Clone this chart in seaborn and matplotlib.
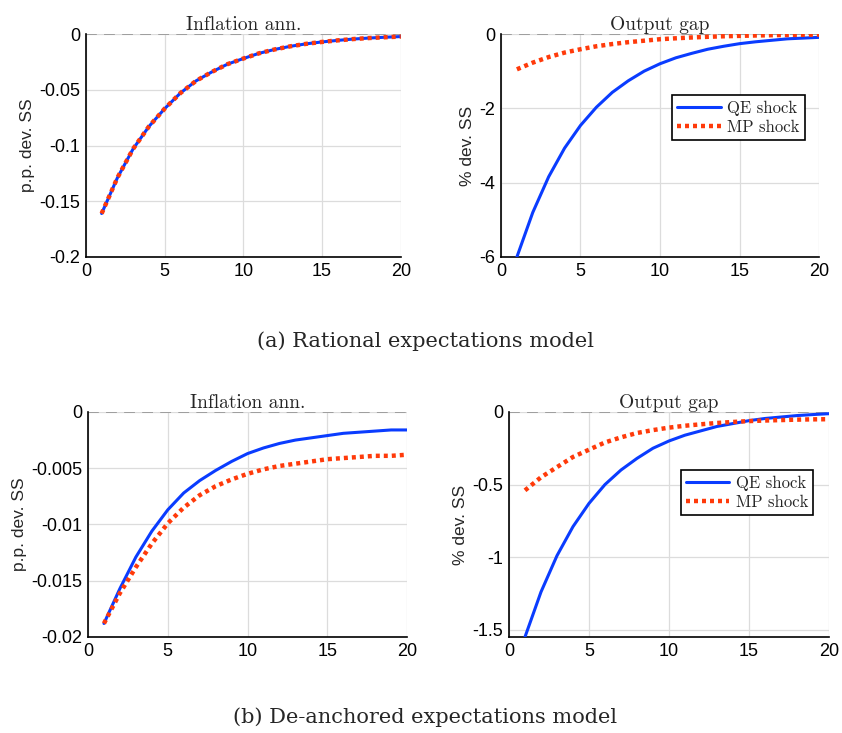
import numpy as np
import pandas as pd
import matplotlib
matplotlib.use("Agg")
import matplotlib.pyplot as plt
import seaborn as sns

# ---- data ----
periods = list(range(1, 21))

# (a) Rational expectations model
re_infl_qe = [-0.161, -0.129, -0.103, -0.083, -0.067, -0.053, -0.042, -0.034, -0.027, -0.022,
              -0.0173, -0.0138, -0.011, -0.0088, -0.0071, -0.0057, -0.0045, -0.0036, -0.0029, -0.0023]
re_infl_mp = [-0.161, -0.129, -0.103, -0.083, -0.067, -0.053, -0.042, -0.034, -0.027, -0.022,
              -0.0173, -0.0138, -0.011, -0.0088, -0.0071, -0.0057, -0.0045, -0.0036, -0.0029, -0.0023]
re_gap_qe = [-6.0, -4.8, -3.84, -3.07, -2.46, -1.97, -1.57, -1.26, -1.0, -0.8,
             -0.64, -0.52, -0.41, -0.33, -0.26, -0.21, -0.17, -0.13, -0.11, -0.09]
re_gap_mp = [-0.95, -0.77, -0.62, -0.50, -0.41, -0.33, -0.27, -0.22, -0.18, -0.14,
             -0.115, -0.093, -0.075, -0.061, -0.05, -0.04, -0.032, -0.026, -0.021, -0.017]

# (b) De-anchored expectations model
da_infl_qe = [-0.0188, -0.0157, -0.0129, -0.0106, -0.0087, -0.0072, -0.0061, -0.0052, -0.0044, -0.0037,
              -0.0032, -0.0028, -0.0025, -0.0023, -0.0021, -0.0019, -0.0018, -0.0017, -0.0016, -0.0016]
da_infl_mp = [-0.0188, -0.0161, -0.0138, -0.0117, -0.0099, -0.0085, -0.0074, -0.0066, -0.0060, -0.0055,
              -0.0051, -0.0048, -0.0046, -0.0044, -0.0042, -0.0041, -0.0040, -0.0039, -0.0039, -0.0038]
da_gap_qe = [-1.55, -1.24, -0.99, -0.79, -0.63, -0.50, -0.40, -0.32, -0.25, -0.20,
             -0.16, -0.13, -0.10, -0.08, -0.06, -0.045, -0.035, -0.025, -0.018, -0.012]
da_gap_mp = [-0.54, -0.45, -0.38, -0.31, -0.26, -0.21, -0.175, -0.145, -0.125, -0.108,
             -0.095, -0.085, -0.076, -0.069, -0.063, -0.059, -0.056, -0.053, -0.051, -0.05]

titles = ["Inflation ann.", "Output gap"]
ylabels = ["p.p. dev. SS", "% dev. SS"]
series_names = ["QE shock", "MP shock"]
captions = ["(a) Rational expectations model", "(b) De-anchored expectations model"]

ylims = [(-0.2, 0), (-6, 0), (-0.02, 0), (-1.55, 0)]
yticks = [[-0.2, -0.15, -0.1, -0.05, 0], [-6, -4, -2, 0],
          [-0.02, -0.015, -0.01, -0.005, 0], [-1.5, -1, -0.5, 0]]
yticklabels = [["-0.2", "-0.15", "-0.1", "-0.05", "0"], ["-6", "-4", "-2", "0"],
               ["-0.02", "-0.015", "-0.01", "-0.005", "0"], ["-1.5", "-1", "-0.5", "0"]]
xticks = [0, 5, 10, 15, 20]

# ---- style ----
sns.set_style("white")
plt.rcParams["font.family"] = ["Liberation Sans", "DejaVu Sans"]
plt.rcParams["axes.unicode_minus"] = False

QE_COLOR = "#0a3cff"
MP_COLOR = "#ff3a0a"

fig = plt.figure(figsize=(8.42, 7.33), dpi=100)

positions = [
    [0.102, 0.6494, 0.374, 0.3042],
    [0.595, 0.6494, 0.3777, 0.3042],
    [0.1045, 0.131, 0.379, 0.307],
    [0.6045, 0.131, 0.380, 0.307],
]

panels = [
    (re_infl_qe, re_infl_mp), (re_gap_qe, re_gap_mp),
    (da_infl_qe, da_infl_mp), (da_gap_qe, da_gap_mp),
]

for i, (qe, mp) in enumerate(panels):
    ax = fig.add_axes(positions[i])
    df = pd.DataFrame({"t": periods, "QE shock": qe, "MP shock": mp})
    ax.axhline(0, color="#999999", lw=1.3, ls=(0, (6, 4)), zorder=1)
    sns.lineplot(data=df, x="t", y="QE shock", ax=ax, color=QE_COLOR, lw=2.2,
                 label=series_names[0], zorder=3)
    sns.lineplot(data=df, x="t", y="MP shock", ax=ax, color=MP_COLOR, lw=3.2,
                 label=series_names[1], zorder=4)
    ax.lines[-1].set_linestyle((0, (0.9, 0.9)))
    ax.lines[-1].set_dash_capstyle("butt")
    ax.set_xlim(0, 20)
    ax.set_ylim(*ylims[i])
    ax.set_xticks(xticks)
    ax.set_xticklabels([str(v) for v in xticks])
    ax.set_yticks(yticks[i])
    ax.set_yticklabels(yticklabels[i])
    ax.grid(True, color="#dcdcdc", lw=0.9)
    ax.set_axisbelow(True)
    for s in ["top", "right"]:
        ax.spines[s].set_visible(False)
    for s in ["left", "bottom"]:
        ax.spines[s].set_color("black")
        ax.spines[s].set_linewidth(1.2)
    ax.tick_params(axis="both", labelsize=13, direction="in", length=3, width=1,
                   colors="black", pad=4)
    ax.set_xlabel("")
    ax.set_ylabel(ylabels[i % 2], fontsize=12.5, labelpad=3)
    ax.set_title(titles[i % 2], fontsize=14, family=["cmr10", "DejaVu Serif"], pad=3)
    if i % 2 == 1:
        leg = ax.legend(loc="upper right", bbox_to_anchor=(0.965, 0.74) if i == 1 else (0.962, 0.755),
                        frameon=True, fancybox=False, framealpha=1, edgecolor="black",
                        prop={"family": ["cmr10", "DejaVu Serif"], "size": 12},
                        handlelength=2.6, borderpad=0.3, labelspacing=0.25,
                        handletextpad=0.4, borderaxespad=0.2)
        leg.get_frame().set_linewidth(1.2)
    else:
        ax.get_legend().remove()

fig.text(0.505, 0.535, captions[0], ha="center", va="center", fontsize=15,
         family=["DejaVu Serif"])
fig.text(0.505, 0.021, captions[1], ha="center", va="center", fontsize=15,
         family=["DejaVu Serif"])

fig.savefig("out.png", dpi=100)
